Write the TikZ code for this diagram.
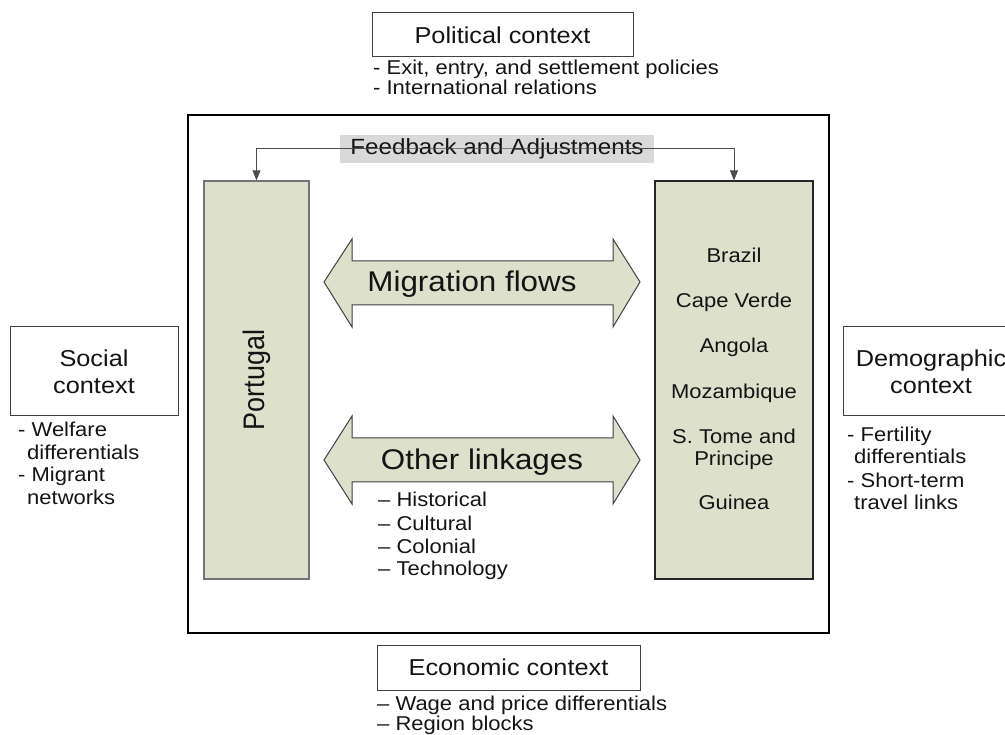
\documentclass[tikz,border=0pt]{standalone}
\usepackage{fontspec}
\setmainfont[FakeStretch=1.1]{Liberation Sans}
\newfontfamily\plainsans{Liberation Sans}
\usetikzlibrary{arrows.meta}
\definecolor{boxfill}{RGB}{221,224,203}
\definecolor{fbgray}{RGB}{217,217,217}
\newcommand\fctx{\fontsize{23}{27}\selectfont}
\newcommand\fbul{\fontsize{20}{22}\selectfont}
\newcommand\fbig{\fontsize{28.5}{32}\selectfont}
\newcommand\fcty{\fontsize{20}{22}\selectfont}
\begin{document}
\begin{tikzpicture}[x=1pt,y=-1pt,
  every node/.style={text=black!92},
  ctxbox/.style={draw=black!75, line width=1pt, fill=white, inner sep=0pt, align=center, font=\fctx},
  bul/.style={anchor=base west, inner sep=0pt, font=\fbul},
  cty/.style={anchor=base, inner sep=0pt, font=\fcty},
  flowarrow/.style={draw=black!75, line width=1pt, fill=boxfill, line join=miter},
  fbline/.style={draw=black!70, line width=1pt, {Triangle[width=8pt,length=10pt]}-{Triangle[width=8pt,length=10pt]}}
]
\useasboundingbox (0,0) rectangle (1005,735);

% main frame
\node[draw=black, line width=1.4pt, minimum width=641, minimum height=518, inner sep=0pt] (frame) at (508.5,374) {};

% context boxes
\node[ctxbox, minimum width=261, minimum height=44] (pol) at (502.5,35) {Political context};
\node[bul] (pol1) at (373,75) {- Exit, entry, and settlement policies};
\node[bul] (pol2) at (373,95) {- International relations};

\node[ctxbox, minimum width=263, minimum height=45] (eco) at (508.5,667.5) {Economic context};
\node[bul] (eco1) at (377,710) {– Wage and price differentials};
\node[bul] (eco2) at (377,730) {– Region blocks};

\node[ctxbox, minimum width=168, minimum height=89] (soc) at (94,371.5) {Social\\context};
\node[bul] (soc1) at (18,437) {- Welfare};
\node[bul] (soc2) at (27,460) {differentials};
\node[bul] (soc3) at (18,482) {- Migrant};
\node[bul] (soc4) at (27,504) {networks};

\node[ctxbox, minimum width=176, minimum height=89] (dem) at (931,371.5) {Demographic\\context};
\node[bul] (dem1) at (847,442) {- Fertility};
\node[bul] (dem2) at (854,464) {differentials};
\node[bul] (dem3) at (847,487) {- Short-term};
\node[bul] (dem4) at (854,509) {travel links};

% Portugal and countries
\node[draw=black!55, line width=1.2pt, fill=boxfill, minimum width=105, minimum height=398, inner sep=0pt] (por) at (256.5,380) {};
\node[rotate=90, inner sep=0pt] (portxt) at (por.center) {\scalebox{1}[1.1]{\plainsans\fontsize{27}{30}\selectfont Portugal}};

\node[draw=black!85, line width=1.2pt, fill=boxfill, minimum width=158, minimum height=398, inner sep=0pt] (cnt) at (734,380) {};
\node[cty] (c1) at (734,263) {Brazil};
\node[cty] (c2) at (734,308) {Cape Verde};
\node[cty] (c3) at (734,353) {Angola};
\node[cty] (c4) at (734,399) {Mozambique};
\node[cty] (c5) at (734,444) {S. Tome and};
\node[cty] (c6) at (734,466) {Principe};
\node[cty] (c7) at (734,510) {Guinea};

% feedback
\node[fill=fbgray, minimum width=314, minimum height=28, inner sep=0pt, font=\fontsize{22}{26}\selectfont] (fb) at (497,149) {Feedback and Adjustments};
\draw[fbline] (por.north) |- (fb.center) -| (cnt.north);

% migration flows arrow
\path[flowarrow] (324,282) -- (352,239) -- (352,261) -- (613,261) -- (613,239) -- (640,282)
  -- (613,327) -- (613,305) -- (352,305) -- (352,327) -- cycle;
\node[anchor=base, inner sep=0pt, font=\fbig] (mig) at (472,292) {Migration flows};

% other linkages arrow
\path[flowarrow] (324,460) -- (352,416) -- (352,438) -- (613,438) -- (613,416) -- (640,460)
  -- (613,504) -- (613,482) -- (352,482) -- (352,504) -- cycle;
\node[anchor=base, inner sep=0pt, font=\fbig] (oth) at (482,470) {Other linkages};
\node[bul] (oth1) at (378,507) {– Historical};
\node[bul] (oth2) at (378,530) {– Cultural};
\node[bul] (oth3) at (378,553) {– Colonial};
\node[bul] (oth4) at (378,575) {– Technology};
\end{tikzpicture}
\end{document}
